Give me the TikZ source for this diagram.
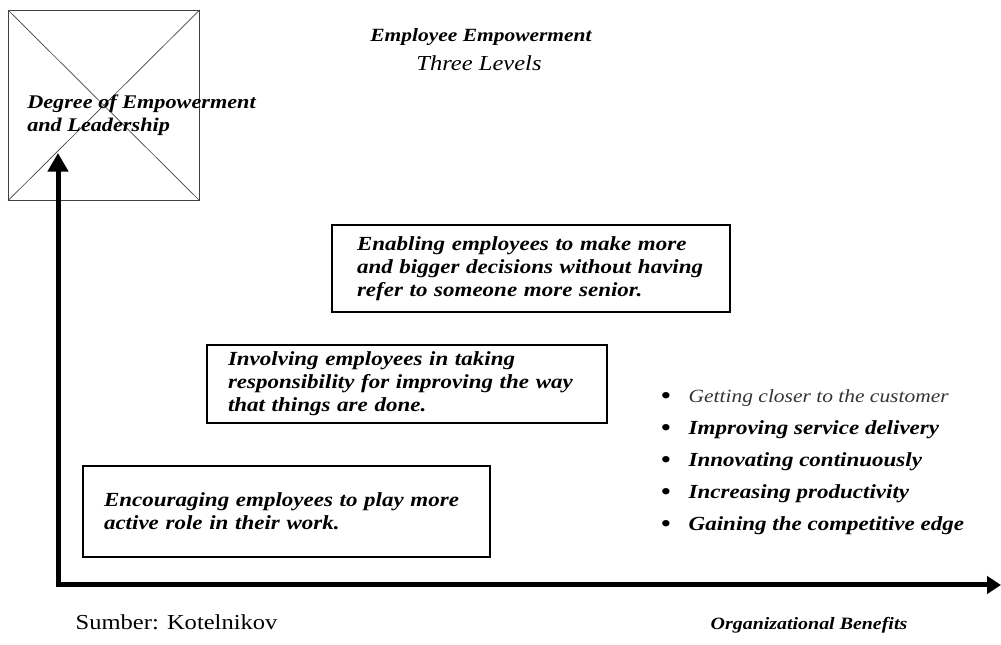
\documentclass[tikz,border=0pt]{standalone}
\usepackage{fontspec}
\setmainfont[FakeStretch=1.15]{Liberation Serif}
\usepackage{tikz}
\usetikzlibrary{arrows.meta, positioning, shadows}

\begin{document}
\begin{tikzpicture}[x=0.75pt, y=-0.75pt, >=Stealth,
    level/.style={draw, fill=white, line width=0.9pt, align=left, inner xsep=15.75pt,
      drop shadow={shadow xshift=-0.9pt, shadow yshift=-0.9pt, fill=black, opacity=1},
      font=\bfseries\itshape\fontsize{15pt}{17.25pt}\selectfont},
    benefit/.style={anchor=west, font=\bfseries\itshape\fontsize{15pt}{16pt}\selectfont,
      label={[label distance=6pt, font=\upshape\mdseries\fontsize{20pt}{20pt}\selectfont, text=black]left:\textbullet}},
    axis/.style={line width=3.75pt, line join=miter,
      {Triangle[length=14pt, width=15pt]}-{Triangle[length=10.5pt, width=13pt]}}]
    \useasboundingbox (0,0) rectangle (1001,645);

    % Placeholder frame with the vertical axis label
    \node[draw, black!75, line width=0.5pt, inner sep=0pt, anchor=north west,
      minimum width=143.25pt, minimum height=142.5pt] (frame) at (8,10) {};
    \draw[black!75, line width=0.5pt] (frame.north west) -- (frame.south east);
    \draw[black!75, line width=0.5pt] (frame.north east) -- (frame.south west);
    \node[anchor=west, align=left, inner sep=0pt,
      font=\bfseries\itshape\fontsize{14.5pt}{17.25pt}\selectfont] (ylabel) at (27,115.5)
      {Degree of Empowerment\\and Leadership};

    % Title
    \node[font=\bfseries\itshape\fontsize{14pt}{16pt}\selectfont] (title) at (481,37) {Employee Empowerment};
    \node[font=\itshape\fontsize{16pt}{18pt}\selectfont] (subtitle) at (479,63) {Three Levels};

    % Axes
    \coordinate (origin) at (58,585);
    \coordinate (ytip) at (58,153);
    \coordinate (xtip) at (1001,585);
    \draw[axis] (ytip) -- (origin) -- (xtip);

    % The three levels
    \node[level, minimum width=305.25pt, minimum height=68.25pt, text width=273.75pt] (lvlone) at (286.5,511.5)
      {Encouraging employees to play more\\active role in their work.};
    \node[level, minimum width=300pt, minimum height=58.5pt, text width=268.5pt] (lvltwo) at (407,384)
      {Involving employees in taking\\responsibility for improving the way\\that things are done.};
    \node[level, minimum width=298.5pt, minimum height=65.25pt, text width=261pt, inner xsep=18.75pt] (lvlthree) at (531,268.5)
      {Enabling employees to make more\\and bigger decisions without having\\refer to someone more senior.};

    % Benefits
    \node[benefit, font=\itshape\fontsize{14pt}{16pt}\selectfont, text=black!80] (ben1) at (684,398) {Getting closer to the customer};
    \node[benefit, below=24pt of ben1.west, anchor=west] (ben2) {Improving service delivery};
    \node[benefit, below=24pt of ben2.west, anchor=west] (ben3) {Innovating continuously};
    \node[benefit, below=24pt of ben3.west, anchor=west] (ben4) {Increasing productivity};
    \node[benefit, below=24pt of ben4.west, anchor=west] (ben5) {Gaining the competitive edge};

    % Source and horizontal axis label
    \node[anchor=west, font=\fontsize{16pt}{18pt}\selectfont] (source) at (71,622) {Sumber: Kotelnikov};
    \node[anchor=west, font=\bfseries\itshape\fontsize{13pt}{15pt}\selectfont] (xlabel) at (706,625) {Organizational Benefits};
\end{tikzpicture}
\end{document}
